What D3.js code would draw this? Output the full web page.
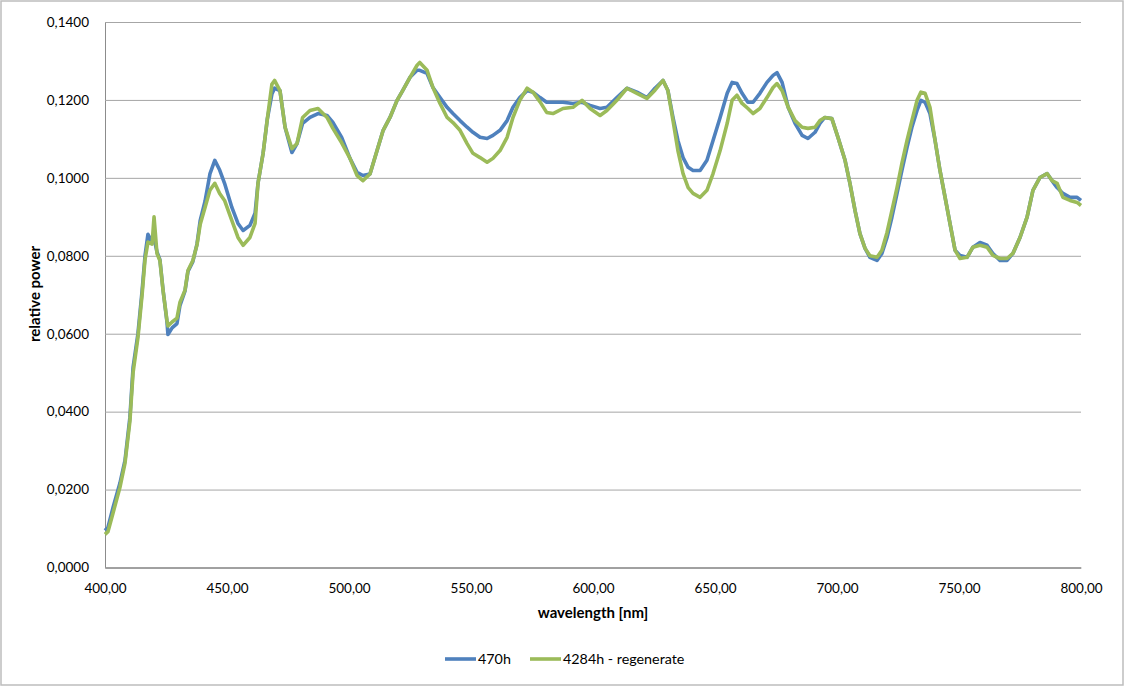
<!DOCTYPE html>
<html>
<head>
<meta charset="utf-8">
<script src="https://cdn.jsdelivr.net/npm/d3@7"></script>
<style>
  body { margin: 0; background: #fff; }
  text { font-family: Lato, "Open Sans", sans-serif; fill: #000; }
</style>
</head>
<body>
<svg id="canvas"></svg>
<script>
// wavelengths [nm]
let wavelengths = [
  400, 401.2, 403.3, 406.1, 408.2, 410.2, 411.5, 413.5, 415.2, 416.4, 417.6, 419.3, 420.1, 421.3, 422.5,
  423.8, 425.4, 425.8, 427.5, 429.5, 430.7, 432.8, 434, 436, 437.7, 439, 441, 443, 445, 447, 449, 452,
  454.5, 456.6, 459.4, 461.5, 462.7, 464.8, 466.5, 468.4, 469.5, 471.7, 473.8, 476.6, 478.7, 481, 484,
  487.3, 491, 493.4, 497, 500.4, 503.3, 505.7, 508.6, 511.5, 514, 516.8, 519.7, 522, 525, 527.9, 529,
  532, 534.4, 537.3, 540.2, 542.6, 545.5, 548.4, 550.8, 553.7, 556.6, 559, 561.9, 564.8, 567.2, 570,
  573, 575.4, 578.3, 581, 583.6, 587.7, 591.8, 595.5, 598.8, 602.9, 605.7, 609.8, 613.9, 618, 622.1,
  625.4, 628.7, 630.7, 632.8, 634.8, 636.9, 639, 641, 643.9, 646.7, 649.2, 652.1, 655, 657, 659, 661.1,
  663.5, 665.6, 668.4, 671.3, 673.8, 675.4, 677.5, 680, 682.8, 685.7, 688.1, 691, 693, 695, 697.9,
  700.4, 703.3, 705.3, 707.4, 709.4, 711.5, 713.5, 716.4, 718.4, 720.5, 722.5, 724.6, 726.6, 728.7,
  730.7, 732.8, 734.4, 736.1, 738.1, 740.2, 742.2, 744.3, 746.3, 748.4, 750.4, 753.3, 755.7, 758.6,
  761.5, 763.9, 766.8, 769.7, 772.1, 775, 777.9, 780.3, 783.2, 786.1, 788.1, 790.2, 792.6, 795.5,
  798.4, 800
];

let power470 = [
  0.0095, 0.0103, 0.0154, 0.0216, 0.0275, 0.0385, 0.0513, 0.0600, 0.0710, 0.0800, 0.0855, 0.0835, 0.0845, 0.0810, 0.0790,
  0.0712, 0.0630, 0.0598, 0.0615, 0.0626, 0.0672, 0.0710, 0.0760, 0.0785, 0.0830, 0.0890, 0.0940, 0.1010, 0.1045, 0.1020, 0.0986, 0.0924,
  0.0883, 0.0865, 0.0878, 0.0909, 0.0986, 0.1063, 0.1150, 0.1215, 0.1230, 0.1224, 0.1130, 0.1065, 0.1088, 0.1140, 0.1155,
  0.1165, 0.1160, 0.1142, 0.1104, 0.1050, 0.1014, 0.1006, 0.1010, 0.1070, 0.1122, 0.1155, 0.1199, 0.1224, 0.1258, 0.1276, 0.1276,
  0.1268, 0.1232, 0.1206, 0.1181, 0.1165, 0.1147, 0.1130, 0.1117, 0.1104, 0.1101, 0.1109, 0.1122, 0.1147, 0.1181, 0.1206,
  0.1224, 0.1220, 0.1206, 0.1194, 0.1194, 0.1194, 0.1191, 0.1194, 0.1186, 0.1178, 0.1181, 0.1206, 0.1230, 0.1220, 0.1206,
  0.1230, 0.1250, 0.1224, 0.1155, 0.1096, 0.1052, 0.1027, 0.1019, 0.1019, 0.1045, 0.1096, 0.1155, 0.1217, 0.1245, 0.1242, 0.1217,
  0.1194, 0.1194, 0.1217, 0.1245, 0.1263, 0.1270, 0.1245, 0.1181, 0.1140, 0.1109, 0.1101, 0.1117, 0.1140, 0.1155, 0.1152,
  0.1104, 0.1045, 0.0986, 0.0916, 0.0857, 0.0819, 0.0796, 0.0788, 0.0806, 0.0847, 0.0899, 0.0960, 0.1019, 0.1078,
  0.1130, 0.1173, 0.1199, 0.1194, 0.1165, 0.1096, 0.1019, 0.0950, 0.0883, 0.0814, 0.0801, 0.0796, 0.0822, 0.0834,
  0.0827, 0.0806, 0.0788, 0.0788, 0.0806, 0.0847, 0.0899, 0.0968, 0.1001, 0.1011, 0.0993, 0.0975, 0.0960, 0.0950,
  0.0950, 0.0942
];

let power4284 = [
  0.0085, 0.0092, 0.0140, 0.0205, 0.0268, 0.0375, 0.0500, 0.0590, 0.0700, 0.0790, 0.0835, 0.0830, 0.0900, 0.0806, 0.0788,
  0.0710, 0.0634, 0.0620, 0.0630, 0.0640, 0.0680, 0.0712, 0.0762, 0.0788, 0.0828, 0.0880, 0.0924, 0.0968, 0.0986, 0.0960, 0.0942, 0.0890,
  0.0847, 0.0827, 0.0847, 0.0883, 0.0986, 0.1063, 0.1150, 0.1240, 0.1250, 0.1224, 0.1130, 0.1075, 0.1088, 0.1155, 0.1173,
  0.1178, 0.1155, 0.1127, 0.1090, 0.1050, 0.1006, 0.0993, 0.1010, 0.1070, 0.1122, 0.1155, 0.1199, 0.1224, 0.1258, 0.1289, 0.1296,
  0.1276, 0.1232, 0.1191, 0.1155, 0.1142, 0.1122, 0.1088, 0.1063, 0.1052, 0.1040, 0.1050, 0.1070, 0.1104, 0.1155, 0.1199,
  0.1230, 0.1220, 0.1195, 0.1168, 0.1165, 0.1178, 0.1181, 0.1199, 0.1178, 0.1160, 0.1173, 0.1199, 0.1230, 0.1217, 0.1204,
  0.1225, 0.1250, 0.1224, 0.1147, 0.1070, 0.1011, 0.0975, 0.0960, 0.0950, 0.0968, 0.1011, 0.1070, 0.1140, 0.1199, 0.1212, 0.1191,
  0.1178, 0.1165, 0.1178, 0.1206, 0.1232, 0.1242, 0.1224, 0.1181, 0.1147, 0.1130, 0.1127, 0.1130, 0.1147, 0.1155, 0.1152,
  0.1104, 0.1045, 0.0986, 0.0916, 0.0857, 0.0819, 0.0800, 0.0796, 0.0814, 0.0860, 0.0916, 0.0975, 0.1037, 0.1096,
  0.1147, 0.1199, 0.1220, 0.1217, 0.1181, 0.1096, 0.1019, 0.0950, 0.0883, 0.0814, 0.0793, 0.0796, 0.0822, 0.0827,
  0.0822, 0.0801, 0.0793, 0.0793, 0.0806, 0.0847, 0.0899, 0.0968, 0.1001, 0.1011, 0.0993, 0.0986, 0.0950, 0.0942,
  0.0937, 0.0929
];

let seriesNames = ["470h", "4284h - regenerate"];
let seriesColors = ["#4f81bd", "#9bbb59"];
let xTicks = [400, 450, 500, 550, 600, 650, 700, 750, 800];
let yTicks = [0, 0.02, 0.04, 0.06, 0.08, 0.1, 0.12, 0.14];

let width = 1125;
let height = 687;
let plotLeft = 105;
let plotRight = 1081;
let plotTop = 22;
let plotBottom = 567.5;

let locale = d3.formatLocale({ decimal: ",", thousands: ".", grouping: [3], currency: ["", ""] });
let fmtX = locale.format(".2f");
let fmtY = locale.format(".4f");

let canvas = d3.select("#canvas").attr("width", width).attr("height", height);

// outer chart frame
canvas
  .append("rect")
  .attr("x", 1)
  .attr("y", 1)
  .attr("width", width - 3)
  .attr("height", height - 3)
  .attr("fill", "#fff")
  .attr("stroke", "#bdbdbd")
  .attr("stroke-width", 1.5);

let xScale = d3.scaleLinear().domain([400, 800]).range([plotLeft, plotRight]);
let yScale = d3.scaleLinear().domain([0, 0.14]).range([plotBottom, plotTop]);

// gridlines + y labels
let yAxis = d3
  .axisLeft(yScale)
  .tickValues(yTicks)
  .tickSize(-(plotRight - plotLeft))
  .tickPadding(16)
  .tickFormat(fmtY);

let gy = canvas
  .append("g")
  .attr("transform", "translate(" + plotLeft + ",0)")
  .call(yAxis);
gy.select(".domain").attr("stroke", "#8c8c8c");
gy.selectAll(".tick line").attr("stroke", "#a6a6a6").attr("stroke-width", 1);
gy.selectAll(".tick text").attr("font-size", 13.5).attr("fill", "#000");

let xAxis = d3
  .axisBottom(xScale)
  .tickValues(xTicks)
  .tickSize(0)
  .tickPadding(16)
  .tickFormat(fmtX);

let gx = canvas
  .append("g")
  .attr("transform", "translate(0," + plotBottom + ")")
  .call(xAxis);
gx.select(".domain").attr("stroke", "#8c8c8c");
gx.selectAll(".tick text").attr("font-size", 13.5).attr("fill", "#000");

// series lines
let line = d3
  .line()
  .x((d) => xScale(d[0]))
  .y((d) => yScale(d[1]));

[power470, power4284].forEach((values, i) => {
  canvas
    .append("path")
    .datum(wavelengths.map((w, j) => [w, values[j]]))
    .attr("fill", "none")
    .attr("stroke", seriesColors[i])
    .attr("stroke-width", 3.6)
    .attr("stroke-linejoin", "round")
    .attr("d", line);
});

// axis titles
canvas
  .append("text")
  .attr("x", 593)
  .attr("y", 618)
  .attr("text-anchor", "middle")
  .attr("font-size", 15)
  .attr("font-weight", "bold")
  .text("wavelength [nm]");

canvas
  .append("text")
  .attr("transform", "translate(40,294) rotate(-90)")
  .attr("text-anchor", "middle")
  .attr("font-size", 15)
  .attr("font-weight", "bold")
  .text("relative power");

// legend
let legendX = [445, 530];
seriesNames.forEach((name, i) => {
  let g = canvas.append("g").attr("transform", "translate(" + legendX[i] + ",659)");
  g.append("line")
    .attr("x1", 0)
    .attr("x2", 31)
    .attr("y1", 0)
    .attr("y2", 0)
    .attr("stroke", seriesColors[i])
    .attr("stroke-width", 3.6);
  g.append("text")
    .attr("x", 33)
    .attr("y", 5)
    .attr("font-size", 14.3)
    .text(name);
});
</script>
</body>
</html>
